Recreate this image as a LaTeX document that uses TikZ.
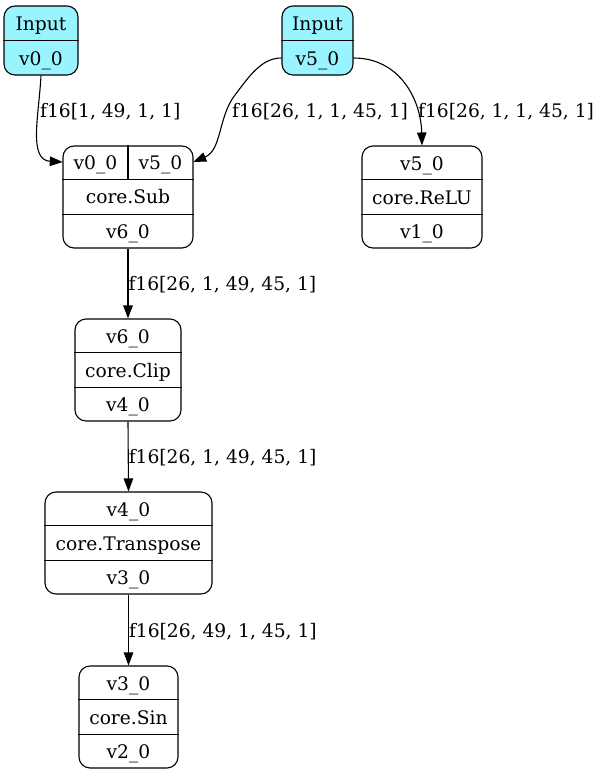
\documentclass[tikz,border=0pt]{standalone}
\usepackage{fontspec}
\setmainfont{DejaVu Serif}
\usepackage{tikz}
\usetikzlibrary{arrows.meta}
\definecolor{inputcol}{RGB}{152,245,255}

\begin{document}
\begin{tikzpicture}[x=1pt, y=-1pt,
			font=\fontsize{18.67pt}{22pt}\selectfont,
			rec/.style={
				draw,
				rounded corners=11pt,
				line width=1.1pt,
				inner sep=0pt},
			txt/.style={
				inner sep=0pt,
				text height=14pt,
				text depth=0pt},
			lbl/.style={txt, anchor=west},
			divide/.style={line width=1.1pt},
			edge/.style={
				line width=1.1pt,
				-{Triangle[length=13pt, width=9.5pt]}}]
			\useasboundingbox (0,0) rectangle (601,774);
			\foreach \nm/\x/\w/\var in {in0/41/74/v0\_0, in5/317.5/71/v5\_0}
			{
				\node[rec, fill=inputcol, minimum width=\w pt, minimum height=69pt] (\nm) at (\x,40.5) {};
				\draw[divide] (\nm.west) -- (\nm.east);
				\node[txt] (\nm-a) at (\x,23) {Input};
				\node[txt] (\nm-b) at (\x,58) {\var};
			}
			\foreach \nm/\x/\y/\w/\inp/\opn/\outp in {relu/422/146/120/v5\_0/core.ReLU/v1\_0,
				clip/128/319/106/v6\_0/core.Clip/v4\_0,
				trans/128.5/492/167/v4\_0/core.Transpose/v3\_0,
				sin/128.5/666/99/v3\_0/core.Sin/v2\_0}
			{
				\node[rec, minimum width=\w pt, minimum height=102pt] (\nm) at (\x,\y+51) {};
				\draw[divide] ([yshift=-34pt]\nm.north west) -- ([yshift=-34pt]\nm.north east)
					([yshift=34pt]\nm.south west) -- ([yshift=34pt]\nm.south east);
				\node[txt] (\nm-in) at (\x,\y+17) {\inp};
				\node[txt] (\nm-op) at (\x,\y+51) {\opn};
				\node[txt] (\nm-out) at (\x,\y+85) {\outp};
			}
			\node[rec, minimum width=130pt, minimum height=102pt] (sub) at (128,197) {};
			\draw[divide] ([yshift=-34pt]sub.north west) -- ([yshift=-34pt]sub.north east)
				([yshift=34pt]sub.south west) -- ([yshift=34pt]sub.south east)
				(sub.north) -- ++(0,34);
			\node[txt, minimum width=65pt] (sub-a) at (95.5,162) {v0\_0};
			\node[txt, minimum width=65pt] (sub-b) at (160.5,162) {v5\_0};
			\node[txt] (sub-op) at (128,196) {core.Sub};
			\node[txt] (sub-out) at (128,231) {v6\_0};
			\draw[edge] (in0.south) .. controls (39,115) and (28,160) .. (sub-a.west);
			\draw[edge] (in5.west |- in5-b) .. controls (262,58) and (250,75) .. (235,95)
				.. controls (218,117) and (222,150) .. (sub-b.east);
			\draw[edge] (in5.east |- in5-b) .. controls (400,58) and (421,100) .. (relu.north);
			\node[lbl] (l0) at (40,110) {f16[1, 49, 1, 1]};
			\node[lbl] (l1) at (232,110) {f16[26, 1, 1, 45, 1]};
			\node[lbl] (l2) at (418,110) {f16[26, 1, 1, 45, 1]};
			\draw[edge] (sub.south) -- node[lbl] (l3) {f16[26, 1, 49, 45, 1]} (clip.north);
			\draw[edge] (clip.south) -- node[lbl] (l4) {f16[26, 1, 49, 45, 1]} (trans.north);
			\draw[edge] (trans.south) -- node[lbl] (l5) {f16[26, 49, 1, 45, 1]} (sin.north);
\end{tikzpicture}
\end{document}
